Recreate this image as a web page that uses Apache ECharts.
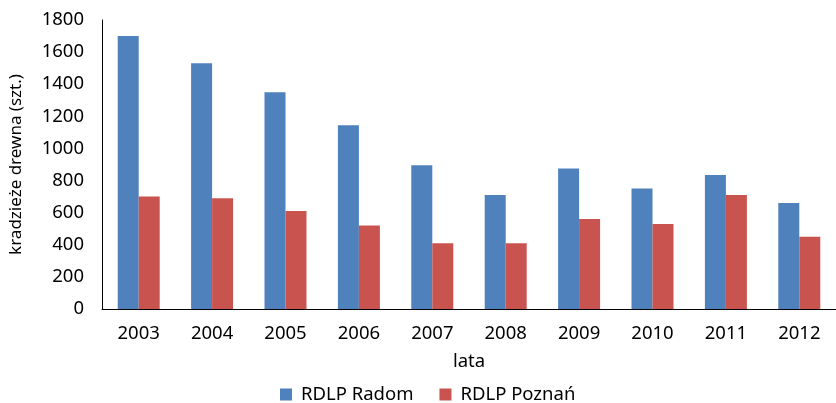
<!DOCTYPE html>
<html>
<head>
<meta charset="utf-8">
<script src="https://cdn.jsdelivr.net/npm/echarts@6/dist/echarts.min.js"></script>
<style>html,body{margin:0;padding:0;background:#fff}#c{width:836px;height:403px}</style>
</head>
<body>
<div id="c"></div>
<script>
const categories = ['2003','2004','2005','2006','2007','2008','2009','2010','2011','2012'];
const radom = [1700, 1530, 1350, 1145, 895, 710, 875, 750, 835, 660];
const poznan = [700, 690, 610, 520, 410, 410, 560, 530, 710, 450];
const yTicks = {min: 0, max: 1800, interval: 200};

const FONT = '"Noto Sans", sans-serif';
const chart = echarts.init(document.getElementById('c'), null, {renderer: 'canvas'});
chart.setOption({
  animation: false,
  textStyle: {fontFamily: FONT},
  grid: {left: 96, right: 0, top: 20, bottom: 94, containLabel: false},
  legend: {
    top: 380, left: 275,
    itemWidth: 12, itemHeight: 12, itemGap: 26,
    icon: 'rect',
    textStyle: {fontSize: 18.5, color: '#000', fontFamily: FONT, padding: [0, 0, 0, 4]},
    data: ['RDLP Radom', 'RDLP Poznań']
  },
  xAxis: {
    type: 'category', data: categories,
    name: 'lata', nameLocation: 'middle', nameGap: 43,
    nameTextStyle: {fontSize: 18.5, color: '#000'},
    axisLine: {lineStyle: {color: '#000', width: 1}},
    axisTick: {show: false},
    axisLabel: {fontSize: 18.5, color: '#000', margin: 15}
  },
  yAxis: {
    type: 'value', min: yTicks.min, max: yTicks.max, interval: yTicks.interval,
    name: 'kradzieże drewna (szt.)', nameLocation: 'middle', nameGap: 77,
    nameTextStyle: {fontSize: 17, color: '#000'},
    axisLine: {show: true, lineStyle: {color: '#000', width: 1}},
    axisTick: {show: false},
    splitLine: {show: false},
    axisLabel: {fontSize: 18.5, color: '#000', margin: 18, formatter: function (v) { return String(v); }}
  },
  series: [
    {name: 'RDLP Radom', type: 'bar', data: radom, barWidth: 21, barGap: '0%',
     itemStyle: {color: '#4F81BD'}},
    {name: 'RDLP Poznań', type: 'bar', data: poznan, barWidth: 21, barGap: '0%',
     itemStyle: {color: '#C9544F'}}
  ]
});
</script>
</body>
</html>
